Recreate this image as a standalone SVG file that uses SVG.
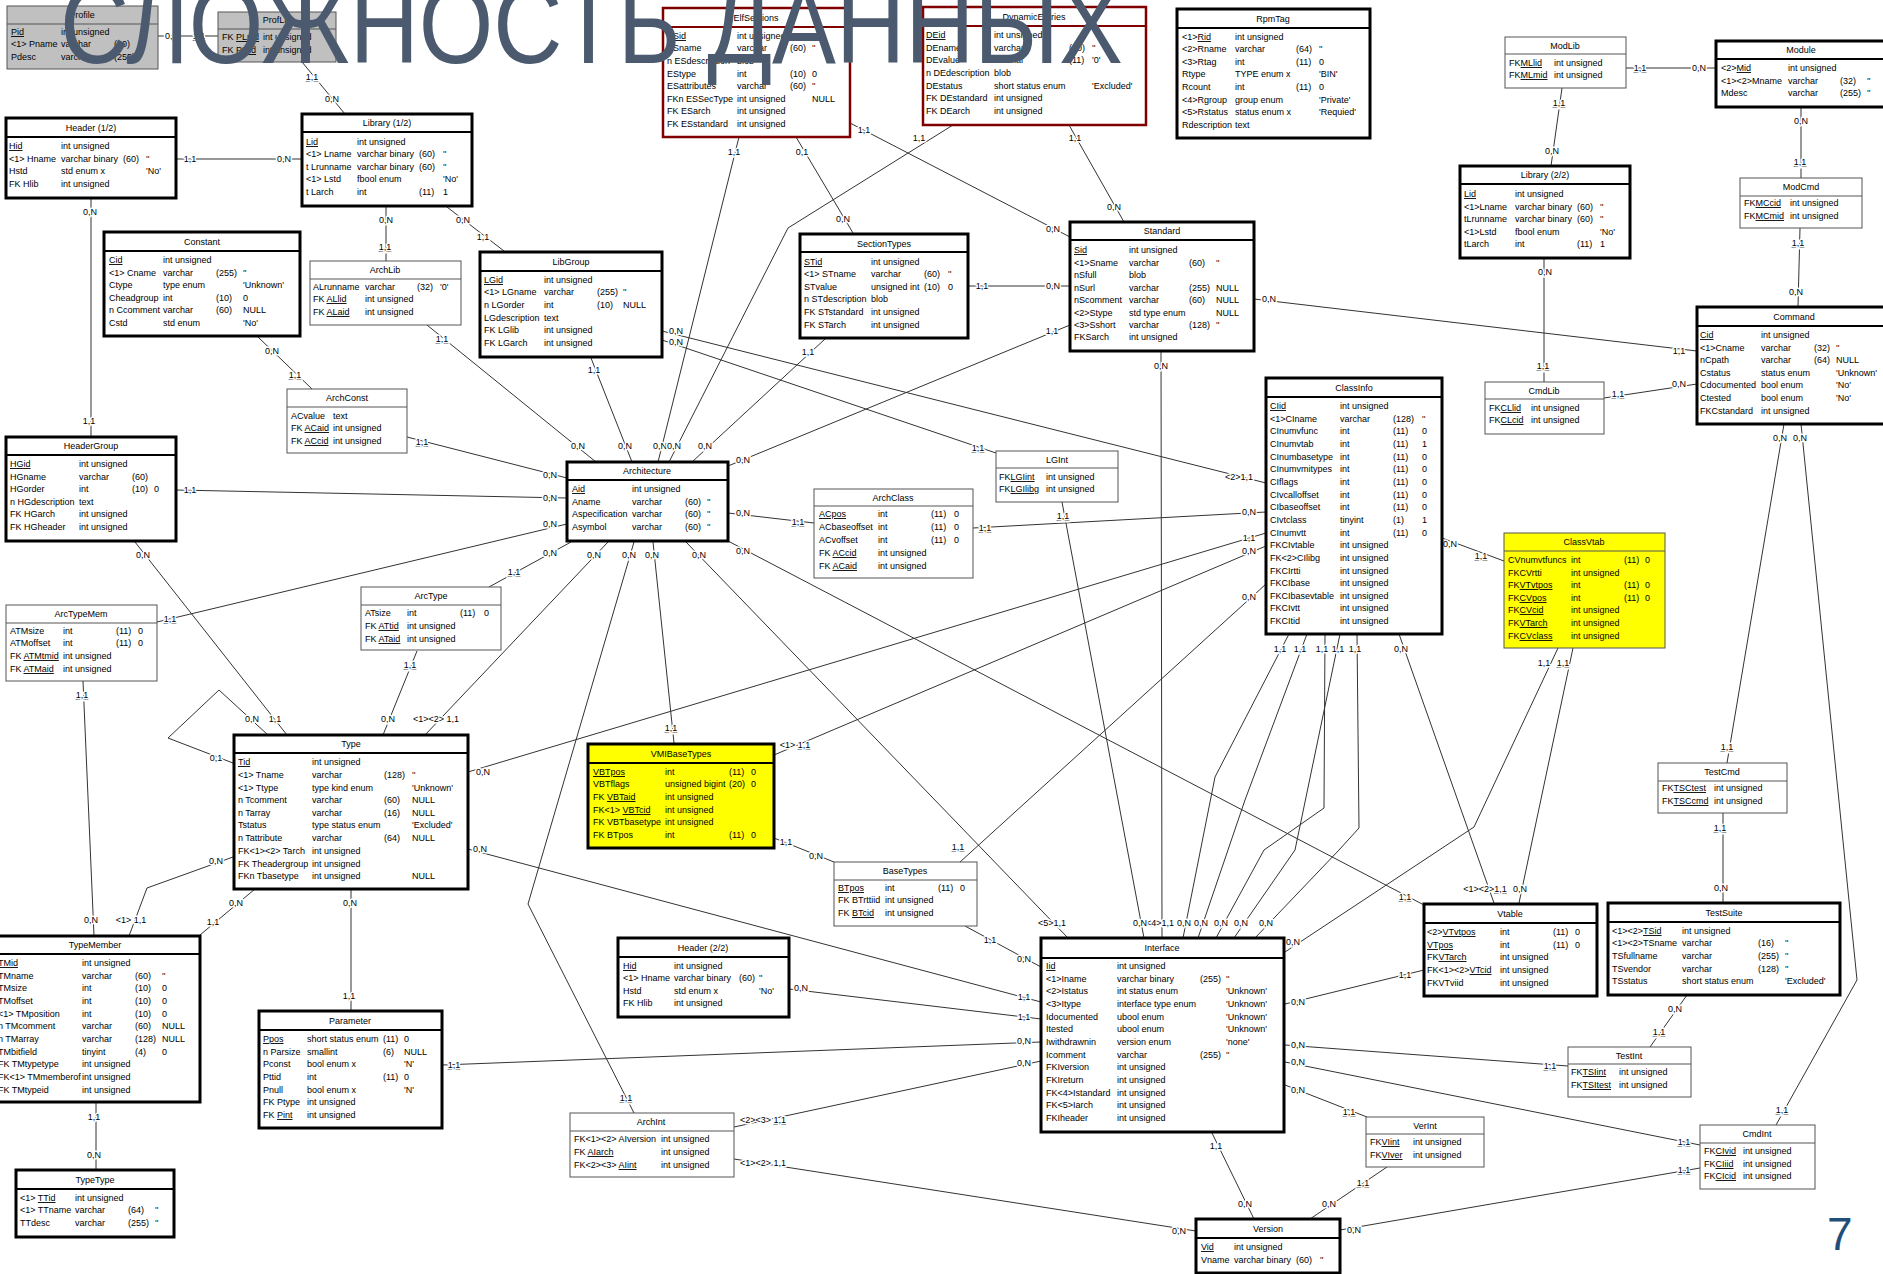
<svg xmlns="http://www.w3.org/2000/svg" width="1883" height="1274" viewBox="0 0 1883 1274">
<style>
.t{font-family:"Liberation Sans",Arial,sans-serif;font-size:9px;fill:#000}
.m{text-anchor:middle}
.u{text-decoration:underline}
.bk{fill:#fff;stroke:#000;stroke-width:3}
.bt{fill:#fff;stroke:#555;stroke-width:1}
.br{fill:#fff;stroke:#800000;stroke-width:2.5}
.bg{fill:#c0c0c0;stroke:#555;stroke-width:1}
.yk{fill:#ffff00;stroke:#000;stroke-width:3}
.yt{fill:#ffff00;stroke:#555;stroke-width:1}
.sk{stroke:#000;stroke-width:2}
.st{stroke:#555;stroke-width:1}
.sr{stroke:#800000;stroke-width:2}
.ln{fill:none;stroke:#333;stroke-width:1}
.lb{font-family:"Liberation Sans",Arial,sans-serif;font-size:9px;fill:#000;text-anchor:middle;paint-order:stroke;stroke:#fff;stroke-width:3px;stroke-linejoin:round}
.ttl{font-family:"Liberation Sans",Arial,sans-serif;font-size:112px;fill:#4b5a6e}
.pg{font-family:"Liberation Sans",Arial,sans-serif;font-size:46px;fill:#1f4e79}
</style>
<rect width="1883" height="1274" fill="#fff"/>
<g id="connectors">
<polyline class="ln" points="158,36 218,36"/><text class="lb" x="172" y="39">0,N</text><text class="lb u" x="199" y="39">1,1</text>
<polyline class="ln" points="302,62 345,114"/><text class="lb u" x="312" y="80">1,1</text><text class="lb" x="332" y="102">0,N</text>
<polyline class="ln" points="176,159 302,159"/><text class="lb" x="190" y="162">1,1</text><text class="lb" x="284" y="162">0,N</text>
<polyline class="ln" points="91,198 91,437"/><text class="lb" x="90" y="215">0,N</text><text class="lb" x="89" y="424">1,1</text>
<polyline class="ln" points="386,206 386,261"/><text class="lb" x="386" y="223">0,N</text><text class="lb u" x="385" y="250">1,1</text>
<polyline class="ln" points="447,207 504,251"/><text class="lb" x="463" y="223">0,N</text><text class="lb" x="483" y="240">1,1</text>
<polyline class="ln" points="258,337 312,389"/><text class="lb" x="272" y="354">0,N</text><text class="lb u" x="295" y="378">1,1</text>
<polyline class="ln" points="427,325 596,462"/><text class="lb u" x="442" y="342">1,1</text><text class="lb" x="578" y="449">0,N</text>
<polyline class="ln" points="407,437 567,478"/><text class="lb u" x="422" y="445">1,1</text><text class="lb" x="550" y="478">0,N</text>
<polyline class="ln" points="176,490 567,498"/><text class="lb" x="190" y="493">1,1</text><text class="lb" x="550" y="501">0,N</text>
<polyline class="ln" points="157,622 567,524"/><text class="lb u" x="170" y="622">1,1</text><text class="lb" x="550" y="527">0,N</text>
<polyline class="ln" points="489,587 571,542"/><text class="lb u" x="514" y="575">1,1</text><text class="lb" x="550" y="556">0,N</text>
<polyline class="ln" points="591,358 632,462"/><text class="lb" x="594" y="373">1,1</text><text class="lb" x="625" y="449">0,N</text>
<polyline class="ln" points="739,137 658,462"/><text class="lb" x="734" y="155">1,1</text><text class="lb" x="660" y="449">0,N</text>
<polyline class="ln" points="953,125 788,228 669,462"/><text class="lb" x="919" y="141">1,1</text><text class="lb" x="674" y="449">0,N</text>
<polyline class="ln" points="825,339 692,462"/><text class="lb" x="808" y="355">1,1</text><text class="lb" x="705" y="449">0,N</text>
<polyline class="ln" points="1070,325 728,466"/><text class="lb" x="1052" y="334">1,1</text><text class="lb" x="743" y="463">0,N</text>
<polyline class="ln" points="728,513 814,523"/><text class="lb" x="743" y="516">0,N</text><text class="lb u" x="798" y="525">1,1</text>
<polyline class="ln" points="608,542 425,735"/><text class="lb" x="594" y="558">0,N</text><text class="lb" x="436" y="722">&lt;1&gt;&lt;2&gt; 1,1</text>
<polyline class="ln" points="634,542 528,904 634,1113"/><text class="lb" x="629" y="558">0,N</text><text class="lb u" x="626" y="1101">1,1</text>
<polyline class="ln" points="653,542 674,743"/><text class="lb" x="652" y="558">0,N</text><text class="lb u" x="671" y="731">1,1</text>
<polyline class="ln" points="686,542 1068,938"/><text class="lb" x="699" y="558">0,N</text><text class="lb" x="1052" y="926">&lt;5&gt;1,1</text>
<polyline class="ln" points="728,541 1424,905"/><text class="lb" x="743" y="554">0,N</text><text class="lb u" x="1405" y="900">1,1</text>
<polyline class="ln" points="796,137 853,233"/><text class="lb" x="802" y="155">0,1</text><text class="lb" x="843" y="222">0,N</text>
<polyline class="ln" points="850,123 1070,237"/><text class="lb" x="864" y="133">1,1</text><text class="lb" x="1053" y="232">0,N</text>
<polyline class="ln" points="1069,125 1124,222"/><text class="lb" x="1075" y="141">1,1</text><text class="lb" x="1114" y="210">0,N</text>
<polyline class="ln" points="968,286 1070,286"/><text class="lb" x="982" y="289">1,1</text><text class="lb" x="1053" y="289">0,N</text>
<polyline class="ln" points="1254,299 1697,351"/><text class="lb" x="1269" y="302">0,N</text><text class="lb" x="1679" y="354">1,1</text>
<polyline class="ln" points="1161,351 1162,938"/><text class="lb" x="1161" y="369">0,N</text><text class="lb" x="1160" y="926">&lt;4&gt;1,1</text>
<polyline class="ln" points="1626,68 1716,68"/><text class="lb u" x="1640" y="71">1,1</text><text class="lb" x="1699" y="71">0,N</text>
<polyline class="ln" points="1562,88 1551,166"/><text class="lb u" x="1559" y="106">1,1</text><text class="lb" x="1552" y="154">0,N</text>
<polyline class="ln" points="1801,107 1801,178"/><text class="lb" x="1801" y="124">0,N</text><text class="lb u" x="1800" y="165">1,1</text>
<polyline class="ln" points="1800,228 1798,307"/><text class="lb u" x="1798" y="246">1,1</text><text class="lb" x="1796" y="295">0,N</text>
<polyline class="ln" points="1544,258 1544,382"/><text class="lb" x="1545" y="275">0,N</text><text class="lb u" x="1543" y="369">1,1</text>
<polyline class="ln" points="1604,398 1697,384"/><text class="lb u" x="1618" y="397">1,1</text><text class="lb" x="1679" y="387">0,N</text>
<polyline class="ln" points="1784,424 1727,763"/><text class="lb" x="1780" y="441">0,N</text><text class="lb u" x="1727" y="750">1,1</text>
<polyline class="ln" points="1801,424 1857,980 1776,1125"/><text class="lb" x="1800" y="441">0,N</text><text class="lb u" x="1782" y="1113">1,1</text>
<polyline class="ln" points="1723,813 1723,903"/><text class="lb u" x="1720" y="831">1,1</text><text class="lb" x="1721" y="891">0,N</text>
<polyline class="ln" points="1687,995 1650,1047"/><text class="lb" x="1675" y="1012">0,N</text><text class="lb u" x="1659" y="1035">1,1</text>
<polyline class="ln" points="1285,1045 1568,1066"/><text class="lb" x="1298" y="1048">0,N</text><text class="lb u" x="1550" y="1069">1,1</text>
<polyline class="ln" points="1285,1062 1700,1145"/><text class="lb" x="1298" y="1065">0,N</text><text class="lb u" x="1684" y="1145">1,1</text>
<polyline class="ln" points="1340,1230 1700,1168"/><text class="lb" x="1354" y="1233">0,N</text><text class="lb u" x="1684" y="1173">1,1</text>
<polyline class="ln" points="1285,1085 1367,1117"/><text class="lb" x="1298" y="1093">0,N</text><text class="lb u" x="1349" y="1115">1,1</text>
<polyline class="ln" points="1387,1167 1310,1219"/><text class="lb u" x="1363" y="1186">1,1</text><text class="lb" x="1329" y="1207">0,N</text>
<polyline class="ln" points="1212,1133 1254,1219"/><text class="lb" x="1216" y="1149">1,1</text><text class="lb" x="1245" y="1207">0,N</text>
<polyline class="ln" points="734,1159 1196,1231"/><text class="lb" x="763" y="1166">&lt;1&gt;&lt;2&gt; 1,1</text><text class="lb" x="1179" y="1234">0,N</text>
<polyline class="ln" points="734,1127 1041,1061"/><text class="lb" x="763" y="1123">&lt;2&gt;&lt;3&gt; <tspan class="u">1,1</tspan></text><text class="lb" x="1024" y="1066">0,N</text>
<polyline class="ln" points="442,1065 1041,1042"/><text class="lb u" x="454" y="1068">1,1</text><text class="lb" x="1024" y="1044">0,N</text>
<polyline class="ln" points="789,989 1041,1019"/><text class="lb" x="801" y="991">0,N</text><text class="lb" x="1024" y="1020">1,1</text>
<polyline class="ln" points="468,849 1041,1002"/><text class="lb" x="480" y="852">0,N</text><text class="lb" x="1024" y="1000">1,1</text>
<polyline class="ln" points="965,926 1041,967"/><text class="lb" x="990" y="943">1,1</text><text class="lb" x="1024" y="962">0,N</text>
<polyline class="ln" points="774,838 834,862"/><text class="lb" x="786" y="845">1,1</text><text class="lb" x="816" y="859">0,N</text>
<polyline class="ln" points="774,755 1266,546"/><text class="lb" x="795" y="748">&lt;1&gt; <tspan class="u">1,1</tspan></text><text class="lb" x="1249" y="554">0,N</text>
<polyline class="ln" points="468,772 1266,533"/><text class="lb" x="483" y="775">0,N</text><text class="lb" x="1249" y="541">1,1</text>
<polyline class="ln" points="960,862 1266,584"/><text class="lb u" x="958" y="850">1,1</text><text class="lb" x="1249" y="600">0,N</text>
<polyline class="ln" points="973,528 1266,512"/><text class="lb u" x="985" y="531">1,1</text><text class="lb" x="1249" y="515">0,N</text>
<polyline class="ln" points="662,331 1266,483"/><text class="lb" x="676" y="334">0,N</text><text class="lb" x="1239" y="480">&lt;2&gt;1,1</text>
<polyline class="ln" points="662,340 996,453"/><text class="lb" x="676" y="345">0,N</text><text class="lb u" x="978" y="451">1,1</text>
<polyline class="ln" points="1062,502 1144,938"/><text class="lb u" x="1063" y="519">1,1</text><text class="lb" x="1140" y="926">0,N</text>
<polyline class="ln" points="1442,538 1504,561"/><text class="lb" x="1450" y="547">0,N</text><text class="lb u" x="1481" y="559">1,1</text>
<polyline class="ln" points="1558,648 1474,827 1285,952"/><text class="lb" x="1544" y="666">1,1</text><text class="lb" x="1293" y="945">0,N</text>
<polyline class="ln" points="1573,648 1519,903"/><text class="lb u" x="1563" y="666">1,1</text><text class="lb" x="1520" y="892">0,N</text>
<polyline class="ln" points="1399,634 1494,903"/><text class="lb" x="1401" y="652">0,N</text><text class="lb" x="1485" y="892">&lt;1&gt;&lt;2&gt;<tspan class="u">1,1</tspan></text>
<polyline class="ln" points="1424,970 1285,1004"/><text class="lb" x="1405" y="978">1,1</text><text class="lb" x="1298" y="1005">0,N</text>
<polyline class="ln" points="1289,634 1215,777 1183,938"/><text class="lb" x="1280" y="652">1,1</text><text class="lb" x="1184" y="926">0,N</text>
<polyline class="ln" points="1307,634 1245,800 1198,938"/><text class="lb" x="1300" y="652">1,1</text><text class="lb" x="1201" y="926">0,N</text>
<polyline class="ln" points="1325,634 1324,808 1264,850 1216,938"/><text class="lb" x="1322" y="652">1,1</text><text class="lb" x="1221" y="926">0,N</text>
<polyline class="ln" points="1340,634 1295,850 1234,938"/><text class="lb" x="1338" y="652">1,1</text><text class="lb" x="1241" y="926">0,N</text>
<polyline class="ln" points="1357,634 1359,828 1339,850 1255,938"/><text class="lb" x="1355" y="652">1,1</text><text class="lb" x="1266" y="926">0,N</text>
<polyline class="ln" points="135,542 287,735"/><text class="lb" x="143" y="558">0,N</text><text class="lb" x="275" y="722">1,1</text>
<polyline class="ln" points="268,735 219,690 168,738 233,763"/><text class="lb" x="252" y="722">0,N</text><text class="lb" x="216" y="761">0,1</text>
<polyline class="ln" points="417,651 383,735"/><text class="lb u" x="410" y="668">1,1</text><text class="lb" x="388" y="722">0,N</text>
<polyline class="ln" points="83,681 94,936"/><text class="lb u" x="82" y="698">1,1</text><text class="lb" x="91" y="923">0,N</text>
<polyline class="ln" points="233,857 147,888 129,936"/><text class="lb" x="216" y="864">0,N</text><text class="lb" x="131" y="923">&lt;1&gt; 1,1</text>
<polyline class="ln" points="255,889 200,935"/><text class="lb" x="236" y="906">0,N</text><text class="lb" x="213" y="925">1,1</text>
<polyline class="ln" points="96,1102 96,1170"/><text class="lb" x="94" y="1120">1,1</text><text class="lb" x="94" y="1158">0,N</text>
<polyline class="ln" points="351,889 351,1011"/><text class="lb" x="350" y="906">0,N</text><text class="lb" x="349" y="999">1,1</text>
</g>

<g id="profile"><rect class="bg" x="7" y="6" width="151" height="63"/><line class="st" x1="7" y1="24" x2="158" y2="24"/><text class="t m" x="82" y="18">Profile</text>
<text class="t" y="35"><tspan x="11" class="u">Pid</tspan><tspan x="61">int unsigned</tspan></text>
<text class="t" y="47"><tspan x="11">&lt;1&gt; Pname</tspan><tspan x="61">varchar</tspan><tspan x="114">(60)</tspan><tspan x="141">''</tspan></text>
<text class="t" y="60"><tspan x="11">Pdesc</tspan><tspan x="61">varchar</tspan><tspan x="114">(255)</tspan></text></g>

<g id="proflib"><rect class="bg" x="218" y="12" width="118" height="50"/><line class="st" x1="218" y1="29" x2="336" y2="29"/><text class="t m" x="277" y="23">ProfLib</text>
<text class="t" y="40"><tspan x="222">FK <tspan class="u">PLpid</tspan></tspan><tspan x="263">int unsigned</tspan></text>
<text class="t" y="53"><tspan x="222">FK <tspan class="u">PLlid</tspan></tspan><tspan x="263">int unsigned</tspan></text></g>

<g id="header1"><rect class="bk" x="6" y="118" width="170" height="80"/><line class="sk" x1="6" y1="137" x2="176" y2="137"/><text class="t m" x="91" y="131">Header (1/2)</text>
<text class="t" y="149"><tspan x="9" class="u">Hid</tspan><tspan x="61">int unsigned</tspan></text>
<text class="t" y="162"><tspan x="9">&lt;1&gt; Hname</tspan><tspan x="61">varchar binary</tspan><tspan x="123">(60)</tspan><tspan x="146">''</tspan></text>
<text class="t" y="174"><tspan x="9">Hstd</tspan><tspan x="61">std enum x</tspan><tspan x="146">'No'</tspan></text>
<text class="t" y="187"><tspan x="9">FK Hlib</tspan><tspan x="61">int unsigned</tspan></text></g>

<g id="library1"><rect class="bk" x="302" y="114" width="170" height="92"/><line class="sk" x1="302" y1="132" x2="472" y2="132"/><text class="t m" x="387" y="126">Library (1/2)</text>
<text class="t" y="145"><tspan x="306" class="u">Lid</tspan><tspan x="357">int unsigned</tspan></text>
<text class="t" y="157"><tspan x="306">&lt;1&gt; Lname</tspan><tspan x="357">varchar binary</tspan><tspan x="419">(60)</tspan><tspan x="443">''</tspan></text>
<text class="t" y="170"><tspan x="306">t Lrunname</tspan><tspan x="357">varchar binary</tspan><tspan x="419">(60)</tspan><tspan x="443">''</tspan></text>
<text class="t" y="182"><tspan x="306">&lt;1&gt; Lstd</tspan><tspan x="357">fbool enum</tspan><tspan x="443">'No'</tspan></text>
<text class="t" y="195"><tspan x="306">t Larch</tspan><tspan x="357">int</tspan><tspan x="419">(11)</tspan><tspan x="443">1</tspan></text></g>

<g id="constant"><rect class="bk" x="104" y="232" width="196" height="104"/><line class="sk" x1="104" y1="251" x2="300" y2="251"/><text class="t m" x="202" y="245">Constant</text>
<text class="t" y="263"><tspan x="109" class="u">Cid</tspan><tspan x="163">int unsigned</tspan></text>
<text class="t" y="276"><tspan x="109">&lt;1&gt; Cname</tspan><tspan x="163">varchar</tspan><tspan x="216">(255)</tspan><tspan x="243">''</tspan></text>
<text class="t" y="288"><tspan x="109">Ctype</tspan><tspan x="163">type enum</tspan><tspan x="243">'Unknown'</tspan></text>
<text class="t" y="301"><tspan x="109">Cheadgroup</tspan><tspan x="163">int</tspan><tspan x="216">(10)</tspan><tspan x="243">0</tspan></text>
<text class="t" y="313"><tspan x="109">n Ccomment</tspan><tspan x="163">varchar</tspan><tspan x="216">(60)</tspan><tspan x="243">NULL</tspan></text>
<text class="t" y="326"><tspan x="109">Cstd</tspan><tspan x="163">std enum</tspan><tspan x="243">'No'</tspan></text></g>

<g id="archlib"><rect class="bt" x="310" y="261" width="151" height="64"/><line class="st" x1="310" y1="279" x2="461" y2="279"/><text class="t m" x="385" y="273">ArchLib</text>
<text class="t" y="290"><tspan x="313">ALrunname</tspan><tspan x="365">varchar</tspan><tspan x="417">(32)</tspan><tspan x="440">'0'</tspan></text>
<text class="t" y="302"><tspan x="313">FK <tspan class="u">ALlid</tspan></tspan><tspan x="365">int unsigned</tspan></text>
<text class="t" y="315"><tspan x="313">FK <tspan class="u">ALaid</tspan></tspan><tspan x="365">int unsigned</tspan></text></g>

<g id="archconst"><rect class="bt" x="287" y="389" width="120" height="64"/><line class="st" x1="287" y1="407" x2="407" y2="407"/><text class="t m" x="347" y="401">ArchConst</text>
<text class="t" y="419"><tspan x="291">ACvalue</tspan><tspan x="333">text</tspan></text>
<text class="t" y="431"><tspan x="291">FK <tspan class="u">ACaid</tspan></tspan><tspan x="333">int unsigned</tspan></text>
<text class="t" y="444"><tspan x="291">FK <tspan class="u">ACcid</tspan></tspan><tspan x="333">int unsigned</tspan></text></g>

<g id="elfsections"><rect class="br" x="663" y="8" width="187" height="129"/><line class="sr" x1="663" y1="27" x2="850" y2="27"/><text class="t m" x="756" y="21">ElfSections</text>
<text class="t" y="39"><tspan x="667" class="u">ESid</tspan><tspan x="737">int unsigned</tspan></text>
<text class="t" y="51"><tspan x="667">ESname</tspan><tspan x="737">varchar</tspan><tspan x="790">(60)</tspan><tspan x="812">''</tspan></text>
<text class="t" y="64"><tspan x="667">n ESdescription</tspan><tspan x="737">blob</tspan></text>
<text class="t" y="77"><tspan x="667">EStype</tspan><tspan x="737">int</tspan><tspan x="790">(10)</tspan><tspan x="812">0</tspan></text>
<text class="t" y="89"><tspan x="667">ESattributes</tspan><tspan x="737">varchar</tspan><tspan x="790">(60)</tspan><tspan x="812">''</tspan></text>
<text class="t" y="102"><tspan x="667">FKn ESSecType</tspan><tspan x="737">int unsigned</tspan><tspan x="812">NULL</tspan></text>
<text class="t" y="114"><tspan x="667">FK ESarch</tspan><tspan x="737">int unsigned</tspan></text>
<text class="t" y="127"><tspan x="667">FK ESstandard</tspan><tspan x="737">int unsigned</tspan></text></g>

<g id="dynamicentries"><rect class="br" x="923" y="7" width="223" height="118"/><line class="sr" x1="923" y1="26" x2="1146" y2="26"/><text class="t m" x="1034" y="20">DynamicEntries</text>
<text class="t" y="38"><tspan x="926" class="u">DEid</tspan><tspan x="994">int unsigned</tspan></text>
<text class="t" y="51"><tspan x="926">DEname</tspan><tspan x="994">varchar</tspan><tspan x="1069">(60)</tspan><tspan x="1092">''</tspan></text>
<text class="t" y="63"><tspan x="926">DEvalue</tspan><tspan x="994">varchar</tspan><tspan x="1069">(11)</tspan><tspan x="1092">'0'</tspan></text>
<text class="t" y="76"><tspan x="926">n DEdescription</tspan><tspan x="994">blob</tspan></text>
<text class="t" y="89"><tspan x="926">DEstatus</tspan><tspan x="994">short status enum</tspan><tspan x="1092">'Excluded'</tspan></text>
<text class="t" y="101"><tspan x="926">FK DEstandard</tspan><tspan x="994">int unsigned</tspan></text>
<text class="t" y="114"><tspan x="926">FK DEarch</tspan><tspan x="994">int unsigned</tspan></text></g>

<g id="libgroup"><rect class="bk" x="480" y="252" width="182" height="105"/><line class="sk" x1="480" y1="271" x2="662" y2="271"/><text class="t m" x="571" y="265">LibGroup</text>
<text class="t" y="283"><tspan x="484" class="u">LGid</tspan><tspan x="544">int unsigned</tspan></text>
<text class="t" y="295"><tspan x="484">&lt;1&gt; LGname</tspan><tspan x="544">varchar</tspan><tspan x="597">(255)</tspan><tspan x="623">''</tspan></text>
<text class="t" y="308"><tspan x="484">n LGorder</tspan><tspan x="544">int</tspan><tspan x="597">(10)</tspan><tspan x="623">NULL</tspan></text>
<text class="t" y="321"><tspan x="484">LGdescription</tspan><tspan x="544">text</tspan></text>
<text class="t" y="333"><tspan x="484">FK LGlib</tspan><tspan x="544">int unsigned</tspan></text>
<text class="t" y="346"><tspan x="484">FK LGarch</tspan><tspan x="544">int unsigned</tspan></text></g>

<g id="sectiontypes"><rect class="bk" x="800" y="234" width="168" height="104"/><line class="sk" x1="800" y1="252" x2="968" y2="252"/><text class="t m" x="884" y="247">SectionTypes</text>
<text class="t" y="265"><tspan x="804" class="u">STid</tspan><tspan x="871">int unsigned</tspan></text>
<text class="t" y="277"><tspan x="804">&lt;1&gt; STname</tspan><tspan x="871">varchar</tspan><tspan x="924">(60)</tspan><tspan x="948">''</tspan></text>
<text class="t" y="290"><tspan x="804">STvalue</tspan><tspan x="871">unsigned int</tspan><tspan x="924">(10)</tspan><tspan x="948">0</tspan></text>
<text class="t" y="302"><tspan x="804">n STdescription</tspan><tspan x="871">blob</tspan></text>
<text class="t" y="315"><tspan x="804">FK STstandard</tspan><tspan x="871">int unsigned</tspan></text>
<text class="t" y="328"><tspan x="804">FK STarch</tspan><tspan x="871">int unsigned</tspan></text></g>

<g id="rpmtag"><rect class="bk" x="1177" y="9" width="193" height="129"/><line class="sk" x1="1177" y1="28" x2="1370" y2="28"/><text class="t m" x="1273" y="22">RpmTag</text>
<text class="t" y="40"><tspan x="1182">&lt;1&gt;<tspan class="u">Rid</tspan></tspan><tspan x="1235">int unsigned</tspan></text>
<text class="t" y="52"><tspan x="1182">&lt;2&gt;Rname</tspan><tspan x="1235">varchar</tspan><tspan x="1296">(64)</tspan><tspan x="1319">''</tspan></text>
<text class="t" y="65"><tspan x="1182">&lt;3&gt;Rtag</tspan><tspan x="1235">int</tspan><tspan x="1296">(11)</tspan><tspan x="1319">0</tspan></text>
<text class="t" y="77"><tspan x="1182">Rtype</tspan><tspan x="1235">TYPE enum x</tspan><tspan x="1319">'BIN'</tspan></text>
<text class="t" y="90"><tspan x="1182">Rcount</tspan><tspan x="1235">int</tspan><tspan x="1296">(11)</tspan><tspan x="1319">0</tspan></text>
<text class="t" y="103"><tspan x="1182">&lt;4&gt;Rgroup</tspan><tspan x="1235">group enum</tspan><tspan x="1319">'Private'</tspan></text>
<text class="t" y="115"><tspan x="1182">&lt;5&gt;Rstatus</tspan><tspan x="1235">status enum x</tspan><tspan x="1319">'Requied'</tspan></text>
<text class="t" y="128"><tspan x="1182">Rdescription</tspan><tspan x="1235">text</tspan></text></g>

<g id="standard"><rect class="bk" x="1070" y="222" width="184" height="129"/><line class="sk" x1="1070" y1="240" x2="1254" y2="240"/><text class="t m" x="1162" y="234">Standard</text>
<text class="t" y="253"><tspan x="1074" class="u">Sid</tspan><tspan x="1129">int unsigned</tspan></text>
<text class="t" y="266"><tspan x="1074">&lt;1&gt;Sname</tspan><tspan x="1129">varchar</tspan><tspan x="1189">(60)</tspan><tspan x="1216">''</tspan></text>
<text class="t" y="278"><tspan x="1074">nSfull</tspan><tspan x="1129">blob</tspan></text>
<text class="t" y="291"><tspan x="1074">nSurl</tspan><tspan x="1129">varchar</tspan><tspan x="1189">(255)</tspan><tspan x="1216">NULL</tspan></text>
<text class="t" y="303"><tspan x="1074">nScomment</tspan><tspan x="1129">varchar</tspan><tspan x="1189">(60)</tspan><tspan x="1216">NULL</tspan></text>
<text class="t" y="316"><tspan x="1074">&lt;2&gt;Stype</tspan><tspan x="1129">std type enum</tspan><tspan x="1216">NULL</tspan></text>
<text class="t" y="328"><tspan x="1074">&lt;3&gt;Sshort</tspan><tspan x="1129">varchar</tspan><tspan x="1189">(128)</tspan><tspan x="1216">''</tspan></text>
<text class="t" y="340"><tspan x="1074">FKSarch</tspan><tspan x="1129">int unsigned</tspan></text></g>

<g id="modlib"><rect class="bt" x="1505" y="37" width="121" height="51"/><line class="st" x1="1505" y1="54" x2="1626" y2="54"/><text class="t m" x="1565" y="49">ModLib</text>
<text class="t" y="66"><tspan x="1509">FK<tspan class="u">MLlid</tspan></tspan><tspan x="1554">int unsigned</tspan></text>
<text class="t" y="78"><tspan x="1509">FK<tspan class="u">MLmid</tspan></tspan><tspan x="1554">int unsigned</tspan></text></g>

<g id="module"><rect class="bk" x="1716" y="41" width="172" height="66"/><line class="sk" x1="1716" y1="59" x2="1888" y2="59"/><text class="t m" x="1801" y="53">Module</text>
<text class="t" y="71"><tspan x="1721">&lt;2&gt;<tspan class="u">Mid</tspan></tspan><tspan x="1788">int unsigned</tspan></text>
<text class="t" y="84"><tspan x="1721">&lt;1&gt;&lt;2&gt;Mname</tspan><tspan x="1788">varchar</tspan><tspan x="1840">(32)</tspan><tspan x="1867">''</tspan></text>
<text class="t" y="96"><tspan x="1721">Mdesc</tspan><tspan x="1788">varchar</tspan><tspan x="1840">(255)</tspan><tspan x="1867">''</tspan></text></g>

<g id="library2"><rect class="bk" x="1460" y="166" width="170" height="92"/><line class="sk" x1="1460" y1="184" x2="1630" y2="184"/><text class="t m" x="1545" y="178">Library (2/2)</text>
<text class="t" y="197"><tspan x="1464" class="u">Lid</tspan><tspan x="1515">int unsigned</tspan></text>
<text class="t" y="210"><tspan x="1464">&lt;1&gt;Lname</tspan><tspan x="1515">varchar binary</tspan><tspan x="1577">(60)</tspan><tspan x="1600">''</tspan></text>
<text class="t" y="222"><tspan x="1464">tLrunname</tspan><tspan x="1515">varchar binary</tspan><tspan x="1577">(60)</tspan><tspan x="1600">''</tspan></text>
<text class="t" y="235"><tspan x="1464">&lt;1&gt;Lstd</tspan><tspan x="1515">fbool enum</tspan><tspan x="1600">'No'</tspan></text>
<text class="t" y="247"><tspan x="1464">tLarch</tspan><tspan x="1515">int</tspan><tspan x="1577">(11)</tspan><tspan x="1600">1</tspan></text></g>

<g id="modcmd"><rect class="bt" x="1740" y="178" width="122" height="50"/><line class="st" x1="1740" y1="196" x2="1862" y2="196"/><text class="t m" x="1801" y="190">ModCmd</text>
<text class="t" y="206"><tspan x="1744">FK<tspan class="u">MCcid</tspan></tspan><tspan x="1790">int unsigned</tspan></text>
<text class="t" y="219"><tspan x="1744">FK<tspan class="u">MCmid</tspan></tspan><tspan x="1790">int unsigned</tspan></text></g>

<g id="cmdlib"><rect class="bt" x="1485" y="382" width="119" height="52"/><line class="st" x1="1485" y1="399" x2="1604" y2="399"/><text class="t m" x="1544" y="394">CmdLib</text>
<text class="t" y="411"><tspan x="1489">FK<tspan class="u">CLlid</tspan></tspan><tspan x="1531">int unsigned</tspan></text>
<text class="t" y="423"><tspan x="1489">FK<tspan class="u">CLcid</tspan></tspan><tspan x="1531">int unsigned</tspan></text></g>

<g id="command"><rect class="bk" x="1697" y="307" width="194" height="117"/><line class="sk" x1="1697" y1="326" x2="1891" y2="326"/><text class="t m" x="1794" y="320">Command</text>
<text class="t" y="338"><tspan x="1700" class="u">Cid</tspan><tspan x="1761">int unsigned</tspan></text>
<text class="t" y="351"><tspan x="1700">&lt;1&gt;Cname</tspan><tspan x="1761">varchar</tspan><tspan x="1814">(32)</tspan><tspan x="1836">''</tspan></text>
<text class="t" y="363"><tspan x="1700">nCpath</tspan><tspan x="1761">varchar</tspan><tspan x="1814">(64)</tspan><tspan x="1836">NULL</tspan></text>
<text class="t" y="376"><tspan x="1700">Cstatus</tspan><tspan x="1761">status enum</tspan><tspan x="1836">'Unknown'</tspan></text>
<text class="t" y="388"><tspan x="1700">Cdocumented</tspan><tspan x="1761">bool enum</tspan><tspan x="1836">'No'</tspan></text>
<text class="t" y="401"><tspan x="1700">Ctested</tspan><tspan x="1761">bool enum</tspan><tspan x="1836">'No'</tspan></text>
<text class="t" y="414"><tspan x="1700">FKCstandard</tspan><tspan x="1761">int unsigned</tspan></text></g>

<g id="classinfo"><rect class="bk" x="1266" y="378" width="176" height="256"/><line class="sk" x1="1266" y1="397" x2="1442" y2="397"/><text class="t m" x="1354" y="391">ClassInfo</text>
<text class="t" y="409"><tspan x="1270" class="u">CIid</tspan><tspan x="1340">int unsigned</tspan></text>
<text class="t" y="422"><tspan x="1270">&lt;1&gt;CIname</tspan><tspan x="1340">varchar</tspan><tspan x="1393">(128)</tspan><tspan x="1422">''</tspan></text>
<text class="t" y="434"><tspan x="1270">CInumvfunc</tspan><tspan x="1340">int</tspan><tspan x="1393">(11)</tspan><tspan x="1422">0</tspan></text>
<text class="t" y="447"><tspan x="1270">CInumvtab</tspan><tspan x="1340">int</tspan><tspan x="1393">(11)</tspan><tspan x="1422">1</tspan></text>
<text class="t" y="460"><tspan x="1270">CInumbasetype</tspan><tspan x="1340">int</tspan><tspan x="1393">(11)</tspan><tspan x="1422">0</tspan></text>
<text class="t" y="472"><tspan x="1270">CInumvmitypes</tspan><tspan x="1340">int</tspan><tspan x="1393">(11)</tspan><tspan x="1422">0</tspan></text>
<text class="t" y="485"><tspan x="1270">CIflags</tspan><tspan x="1340">int</tspan><tspan x="1393">(11)</tspan><tspan x="1422">0</tspan></text>
<text class="t" y="498"><tspan x="1270">CIvcalloffset</tspan><tspan x="1340">int</tspan><tspan x="1393">(11)</tspan><tspan x="1422">0</tspan></text>
<text class="t" y="510"><tspan x="1270">CIbaseoffset</tspan><tspan x="1340">int</tspan><tspan x="1393">(11)</tspan><tspan x="1422">0</tspan></text>
<text class="t" y="523"><tspan x="1270">CIvtclass</tspan><tspan x="1340">tinyint</tspan><tspan x="1393">(1)</tspan><tspan x="1422">1</tspan></text>
<text class="t" y="536"><tspan x="1270">CInumvtt</tspan><tspan x="1340">int</tspan><tspan x="1393">(11)</tspan><tspan x="1422">0</tspan></text>
<text class="t" y="548"><tspan x="1270">FKCIvtable</tspan><tspan x="1340">int unsigned</tspan></text>
<text class="t" y="561"><tspan x="1270">FK&lt;2&gt;CIlibg</tspan><tspan x="1340">int unsigned</tspan></text>
<text class="t" y="574"><tspan x="1270">FKCIrtti</tspan><tspan x="1340">int unsigned</tspan></text>
<text class="t" y="586"><tspan x="1270">FKCIbase</tspan><tspan x="1340">int unsigned</tspan></text>
<text class="t" y="599"><tspan x="1270">FKCIbasevtable</tspan><tspan x="1340">int unsigned</tspan></text>
<text class="t" y="611"><tspan x="1270">FKCIvtt</tspan><tspan x="1340">int unsigned</tspan></text>
<text class="t" y="624"><tspan x="1270">FKCItid</tspan><tspan x="1340">int unsigned</tspan></text></g>

<g id="architecture"><rect class="bk" x="567" y="462" width="161" height="79"/><line class="sk" x1="567" y1="480" x2="728" y2="480"/><text class="t m" x="647" y="474">Architecture</text>
<text class="t" y="492"><tspan x="572" class="u">Aid</tspan><tspan x="632">int unsigned</tspan></text>
<text class="t" y="505"><tspan x="572">Aname</tspan><tspan x="632">varchar</tspan><tspan x="685">(60)</tspan><tspan x="707">''</tspan></text>
<text class="t" y="517"><tspan x="572">Aspecification</tspan><tspan x="632">varchar</tspan><tspan x="685">(60)</tspan><tspan x="707">''</tspan></text>
<text class="t" y="530"><tspan x="572">Asymbol</tspan><tspan x="632">varchar</tspan><tspan x="685">(60)</tspan><tspan x="707">''</tspan></text></g>

<g id="archclass"><rect class="bt" x="814" y="489" width="159" height="89"/><line class="st" x1="814" y1="506" x2="973" y2="506"/><text class="t m" x="893" y="501">ArchClass</text>
<text class="t" y="517"><tspan x="819" class="u">ACpos</tspan><tspan x="878">int</tspan><tspan x="931">(11)</tspan><tspan x="954">0</tspan></text>
<text class="t" y="530"><tspan x="819">ACbaseoffset</tspan><tspan x="878">int</tspan><tspan x="931">(11)</tspan><tspan x="954">0</tspan></text>
<text class="t" y="543"><tspan x="819">ACvoffset</tspan><tspan x="878">int</tspan><tspan x="931">(11)</tspan><tspan x="954">0</tspan></text>
<text class="t" y="556"><tspan x="819">FK <tspan class="u">ACcid</tspan></tspan><tspan x="878">int unsigned</tspan></text>
<text class="t" y="569"><tspan x="819">FK <tspan class="u">ACaid</tspan></tspan><tspan x="878">int unsigned</tspan></text></g>

<g id="lgint"><rect class="bt" x="996" y="451" width="122" height="51"/><line class="st" x1="996" y1="468" x2="1118" y2="468"/><text class="t m" x="1057" y="463">LGInt</text>
<text class="t" y="480"><tspan x="999">FK<tspan class="u">LGIint</tspan></tspan><tspan x="1046">int unsigned</tspan></text>
<text class="t" y="492"><tspan x="999">FK<tspan class="u">LGIlibg</tspan></tspan><tspan x="1046">int unsigned</tspan></text></g>

<g id="classvtab"><rect class="yt" x="1504" y="533" width="161" height="115"/><line class="st" x1="1504" y1="551" x2="1665" y2="551"/><text class="t m" x="1584" y="545">ClassVtab</text>
<text class="t" y="563"><tspan x="1508">CVnumvtfuncs</tspan><tspan x="1571">int</tspan><tspan x="1624">(11)</tspan><tspan x="1645">0</tspan></text>
<text class="t" y="576"><tspan x="1508">FKCVrtti</tspan><tspan x="1571">int unsigned</tspan></text>
<text class="t" y="588"><tspan x="1508">FK<tspan class="u">VTvtpos</tspan></tspan><tspan x="1571">int</tspan><tspan x="1624">(11)</tspan><tspan x="1645">0</tspan></text>
<text class="t" y="601"><tspan x="1508">FK<tspan class="u">CVpos</tspan></tspan><tspan x="1571">int</tspan><tspan x="1624">(11)</tspan><tspan x="1645">0</tspan></text>
<text class="t" y="613"><tspan x="1508">FK<tspan class="u">CVcid</tspan></tspan><tspan x="1571">int unsigned</tspan></text>
<text class="t" y="626"><tspan x="1508">FK<tspan class="u">VTarch</tspan></tspan><tspan x="1571">int unsigned</tspan></text>
<text class="t" y="639"><tspan x="1508">FK<tspan class="u">CVclass</tspan></tspan><tspan x="1571">int unsigned</tspan></text></g>

<g id="vmibasetypes"><rect class="yk" x="588" y="744" width="186" height="104"/><line class="sk" x1="588" y1="763" x2="774" y2="763"/><text class="t m" x="681" y="757">VMIBaseTypes</text>
<text class="t" y="775"><tspan x="593" class="u">VBTpos</tspan><tspan x="665">int</tspan><tspan x="729">(11)</tspan><tspan x="751">0</tspan></text>
<text class="t" y="787"><tspan x="593">VBTflags</tspan><tspan x="665">unsigned bigint</tspan><tspan x="729">(20)</tspan><tspan x="751">0</tspan></text>
<text class="t" y="800"><tspan x="593">FK <tspan class="u">VBTaid</tspan></tspan><tspan x="665">int unsigned</tspan></text>
<text class="t" y="813"><tspan x="593">FK&lt;1&gt; <tspan class="u">VBTcid</tspan></tspan><tspan x="665">int unsigned</tspan></text>
<text class="t" y="825"><tspan x="593">FK VBTbasetype</tspan><tspan x="665">int unsigned</tspan></text>
<text class="t" y="838"><tspan x="593">FK BTpos</tspan><tspan x="665">int</tspan><tspan x="729">(11)</tspan><tspan x="751">0</tspan></text></g>

<g id="basetypes"><rect class="bt" x="834" y="862" width="143" height="64"/><line class="st" x1="834" y1="880" x2="977" y2="880"/><text class="t m" x="905" y="874">BaseTypes</text>
<text class="t" y="891"><tspan x="838" class="u">BTpos</tspan><tspan x="885">int</tspan><tspan x="938">(11)</tspan><tspan x="960">0</tspan></text>
<text class="t" y="903"><tspan x="838">FK BTrttiid</tspan><tspan x="885">int unsigned</tspan></text>
<text class="t" y="916"><tspan x="838">FK <tspan class="u">BTcid</tspan></tspan><tspan x="885">int unsigned</tspan></text></g>

<g id="interface"><rect class="bk" x="1041" y="938" width="243" height="194"/><line class="sk" x1="1041" y1="958" x2="1284" y2="958"/><text class="t m" x="1162" y="951">Interface</text>
<text class="t" y="969"><tspan x="1046" class="u">Iid</tspan><tspan x="1117">int unsigned</tspan></text>
<text class="t" y="982"><tspan x="1046">&lt;1&gt;Iname</tspan><tspan x="1117">varchar binary</tspan><tspan x="1200">(255)</tspan><tspan x="1226">''</tspan></text>
<text class="t" y="994"><tspan x="1046">&lt;2&gt;Istatus</tspan><tspan x="1117">int status enum</tspan><tspan x="1226">'Unknown'</tspan></text>
<text class="t" y="1007"><tspan x="1046">&lt;3&gt;Itype</tspan><tspan x="1117">interface type enum</tspan><tspan x="1226">'Unknown'</tspan></text>
<text class="t" y="1020"><tspan x="1046">Idocumented</tspan><tspan x="1117">ubool enum</tspan><tspan x="1226">'Unknown'</tspan></text>
<text class="t" y="1032"><tspan x="1046">Itested</tspan><tspan x="1117">ubool enum</tspan><tspan x="1226">'Unknown'</tspan></text>
<text class="t" y="1045"><tspan x="1046">Iwithdrawnin</tspan><tspan x="1117">version enum</tspan><tspan x="1226">'none'</tspan></text>
<text class="t" y="1058"><tspan x="1046">Icomment</tspan><tspan x="1117">varchar</tspan><tspan x="1200">(255)</tspan><tspan x="1226">''</tspan></text>
<text class="t" y="1070"><tspan x="1046">FKIversion</tspan><tspan x="1117">int unsigned</tspan></text>
<text class="t" y="1083"><tspan x="1046">FKIreturn</tspan><tspan x="1117">int unsigned</tspan></text>
<text class="t" y="1096"><tspan x="1046">FK&lt;4&gt;Istandard</tspan><tspan x="1117">int unsigned</tspan></text>
<text class="t" y="1108"><tspan x="1046">FK&lt;5&gt;Iarch</tspan><tspan x="1117">int unsigned</tspan></text>
<text class="t" y="1121"><tspan x="1046">FKIheader</tspan><tspan x="1117">int unsigned</tspan></text></g>

<g id="type"><rect class="bk" x="234" y="735" width="234" height="154"/><line class="sk" x1="234" y1="753" x2="468" y2="753"/><text class="t m" x="351" y="747">Type</text>
<text class="t" y="765"><tspan x="238" class="u">Tid</tspan><tspan x="312">int unsigned</tspan></text>
<text class="t" y="778"><tspan x="238">&lt;1&gt; Tname</tspan><tspan x="312">varchar</tspan><tspan x="384">(128)</tspan><tspan x="412">''</tspan></text>
<text class="t" y="791"><tspan x="238">&lt;1&gt; Ttype</tspan><tspan x="312">type kind enum</tspan><tspan x="412">'Unknown'</tspan></text>
<text class="t" y="803"><tspan x="238">n Tcomment</tspan><tspan x="312">varchar</tspan><tspan x="384">(60)</tspan><tspan x="412">NULL</tspan></text>
<text class="t" y="816"><tspan x="238">n Tarray</tspan><tspan x="312">varchar</tspan><tspan x="384">(16)</tspan><tspan x="412">NULL</tspan></text>
<text class="t" y="828"><tspan x="238">Tstatus</tspan><tspan x="312">type status enum</tspan><tspan x="412">'Excluded'</tspan></text>
<text class="t" y="841"><tspan x="238">n Tattribute</tspan><tspan x="312">varchar</tspan><tspan x="384">(64)</tspan><tspan x="412">NULL</tspan></text>
<text class="t" y="854"><tspan x="238">FK&lt;1&gt;&lt;2&gt; Tarch</tspan><tspan x="312">int unsigned</tspan></text>
<text class="t" y="867"><tspan x="238">FK Theadergroup</tspan><tspan x="312">int unsigned</tspan></text>
<text class="t" y="879"><tspan x="238">FKn Tbasetype</tspan><tspan x="312">int unsigned</tspan><tspan x="412">NULL</tspan></text></g>

<g id="headergroup"><rect class="bk" x="6" y="437" width="170" height="104"/><line class="sk" x1="6" y1="455" x2="176" y2="455"/><text class="t m" x="91" y="449">HeaderGroup</text>
<text class="t" y="467"><tspan x="10" class="u">HGid</tspan><tspan x="79">int unsigned</tspan></text>
<text class="t" y="480"><tspan x="10">HGname</tspan><tspan x="79">varchar</tspan><tspan x="132">(60)</tspan></text>
<text class="t" y="492"><tspan x="10">HGorder</tspan><tspan x="79">int</tspan><tspan x="132">(10)</tspan><tspan x="154">0</tspan></text>
<text class="t" y="505"><tspan x="10">n HGdescription</tspan><tspan x="79">text</tspan></text>
<text class="t" y="517"><tspan x="10">FK HGarch</tspan><tspan x="79">int unsigned</tspan></text>
<text class="t" y="530"><tspan x="10">FK HGheader</tspan><tspan x="79">int unsigned</tspan></text></g>

<g id="arctypemem"><rect class="bt" x="6" y="605" width="151" height="76"/><line class="st" x1="6" y1="623" x2="157" y2="623"/><text class="t m" x="81" y="617">ArcTypeMem</text>
<text class="t" y="634"><tspan x="10">ATMsize</tspan><tspan x="63">int</tspan><tspan x="116">(11)</tspan><tspan x="138">0</tspan></text>
<text class="t" y="646"><tspan x="10">ATMoffset</tspan><tspan x="63">int</tspan><tspan x="116">(11)</tspan><tspan x="138">0</tspan></text>
<text class="t" y="659"><tspan x="10">FK <tspan class="u">ATMtmid</tspan></tspan><tspan x="63">int unsigned</tspan></text>
<text class="t" y="672"><tspan x="10">FK <tspan class="u">ATMaid</tspan></tspan><tspan x="63">int unsigned</tspan></text></g>

<g id="arctype"><rect class="bt" x="361" y="587" width="140" height="63"/><line class="st" x1="361" y1="605" x2="501" y2="605"/><text class="t m" x="431" y="599">ArcType</text>
<text class="t" y="616"><tspan x="365">ATsize</tspan><tspan x="407">int</tspan><tspan x="460">(11)</tspan><tspan x="484">0</tspan></text>
<text class="t" y="629"><tspan x="365">FK <tspan class="u">ATtid</tspan></tspan><tspan x="407">int unsigned</tspan></text>
<text class="t" y="642"><tspan x="365">FK <tspan class="u">ATaid</tspan></tspan><tspan x="407">int unsigned</tspan></text></g>

<g id="typemember"><rect class="bk" x="-10" y="936" width="210" height="166"/><line class="sk" x1="-10" y1="954" x2="200" y2="954"/><text class="t m" x="95" y="948">TypeMember</text>
<text class="t" y="966"><tspan x="-2" class="u">TMid</tspan><tspan x="82">int unsigned</tspan></text>
<text class="t" y="979"><tspan x="-2">TMname</tspan><tspan x="82">varchar</tspan><tspan x="135">(60)</tspan><tspan x="162">''</tspan></text>
<text class="t" y="991"><tspan x="-2">TMsize</tspan><tspan x="82">int</tspan><tspan x="135">(10)</tspan><tspan x="162">0</tspan></text>
<text class="t" y="1004"><tspan x="-2">TMoffset</tspan><tspan x="82">int</tspan><tspan x="135">(10)</tspan><tspan x="162">0</tspan></text>
<text class="t" y="1017"><tspan x="-2">&lt;1&gt; TMposition</tspan><tspan x="82">int</tspan><tspan x="135">(10)</tspan><tspan x="162">0</tspan></text>
<text class="t" y="1029"><tspan x="-2">n TMcomment</tspan><tspan x="82">varchar</tspan><tspan x="135">(60)</tspan><tspan x="162">NULL</tspan></text>
<text class="t" y="1042"><tspan x="-2">n TMarray</tspan><tspan x="82">varchar</tspan><tspan x="135">(128)</tspan><tspan x="162">NULL</tspan></text>
<text class="t" y="1055"><tspan x="-2">TMbitfield</tspan><tspan x="82">tinyint</tspan><tspan x="135">(4)</tspan><tspan x="162">0</tspan></text>
<text class="t" y="1067"><tspan x="-2">FK TMtypetype</tspan><tspan x="82">int unsigned</tspan></text>
<text class="t" y="1080"><tspan x="-2">FK&lt;1&gt; TMmemberof</tspan><tspan x="82">int unsigned</tspan></text>
<text class="t" y="1093"><tspan x="-2">FK TMtypeid</tspan><tspan x="82">int unsigned</tspan></text></g>

<g id="typetype"><rect class="bk" x="16" y="1170" width="158" height="67"/><line class="sk" x1="16" y1="1189" x2="174" y2="1189"/><text class="t m" x="95" y="1183">TypeType</text>
<text class="t" y="1201"><tspan x="20">&lt;1&gt; <tspan class="u">TTid</tspan></tspan><tspan x="75">int unsigned</tspan></text>
<text class="t" y="1213"><tspan x="20">&lt;1&gt; TTname</tspan><tspan x="75">varchar</tspan><tspan x="128">(64)</tspan><tspan x="155">''</tspan></text>
<text class="t" y="1226"><tspan x="20">TTdesc</tspan><tspan x="75">varchar</tspan><tspan x="128">(255)</tspan><tspan x="155">''</tspan></text></g>

<g id="parameter"><rect class="bk" x="259" y="1011" width="183" height="117"/><line class="sk" x1="259" y1="1030" x2="442" y2="1030"/><text class="t m" x="350" y="1024">Parameter</text>
<text class="t" y="1042"><tspan x="263" class="u">Ppos</tspan><tspan x="307">short status enum</tspan><tspan x="383">(11)</tspan><tspan x="404">0</tspan></text>
<text class="t" y="1055"><tspan x="263">n Parsize</tspan><tspan x="307">smallint</tspan><tspan x="383">(6)</tspan><tspan x="404">NULL</tspan></text>
<text class="t" y="1067"><tspan x="263">Pconst</tspan><tspan x="307">bool enum x</tspan><tspan x="404">'N'</tspan></text>
<text class="t" y="1080"><tspan x="263">Pttid</tspan><tspan x="307">int</tspan><tspan x="383">(11)</tspan><tspan x="404">0</tspan></text>
<text class="t" y="1093"><tspan x="263">Pnull</tspan><tspan x="307">bool enum x</tspan><tspan x="404">'N'</tspan></text>
<text class="t" y="1105"><tspan x="263">FK Ptype</tspan><tspan x="307">int unsigned</tspan></text>
<text class="t" y="1118"><tspan x="263">FK <tspan class="u">Pint</tspan></tspan><tspan x="307">int unsigned</tspan></text></g>

<g id="header2"><rect class="bk" x="618" y="938" width="171" height="79"/><line class="sk" x1="618" y1="957" x2="789" y2="957"/><text class="t m" x="703" y="951">Header (2/2)</text>
<text class="t" y="969"><tspan x="623" class="u">Hid</tspan><tspan x="674">int unsigned</tspan></text>
<text class="t" y="981"><tspan x="623">&lt;1&gt; Hname</tspan><tspan x="674">varchar binary</tspan><tspan x="739">(60)</tspan><tspan x="759">''</tspan></text>
<text class="t" y="994"><tspan x="623">Hstd</tspan><tspan x="674">std enum x</tspan><tspan x="759">'No'</tspan></text>
<text class="t" y="1006"><tspan x="623">FK Hlib</tspan><tspan x="674">int unsigned</tspan></text></g>

<g id="archint"><rect class="bt" x="570" y="1113" width="164" height="64"/><line class="st" x1="570" y1="1131" x2="734" y2="1131"/><text class="t m" x="651" y="1125">ArchInt</text>
<text class="t" y="1142"><tspan x="574">FK&lt;1&gt;&lt;2&gt; AIversion</tspan><tspan x="661">int unsigned</tspan></text>
<text class="t" y="1155"><tspan x="574">FK <tspan class="u">AIarch</tspan></tspan><tspan x="661">int unsigned</tspan></text>
<text class="t" y="1168"><tspan x="574">FK&lt;2&gt;&lt;3&gt; <tspan class="u">AIint</tspan></tspan><tspan x="661">int unsigned</tspan></text></g>

<g id="vtable"><rect class="bk" x="1424" y="904" width="173" height="92"/><line class="sk" x1="1424" y1="923" x2="1597" y2="923"/><text class="t m" x="1510" y="917">Vtable</text>
<text class="t" y="935"><tspan x="1427">&lt;2&gt;<tspan class="u">VTvtpos</tspan></tspan><tspan x="1500">int</tspan><tspan x="1553">(11)</tspan><tspan x="1575">0</tspan></text>
<text class="t" y="948"><tspan x="1427" class="u">VTpos</tspan><tspan x="1500">int</tspan><tspan x="1553">(11)</tspan><tspan x="1575">0</tspan></text>
<text class="t" y="960"><tspan x="1427">FK<tspan class="u">VTarch</tspan></tspan><tspan x="1500">int unsigned</tspan></text>
<text class="t" y="973"><tspan x="1427">FK&lt;1&gt;&lt;2&gt;<tspan class="u">VTcid</tspan></tspan><tspan x="1500">int unsigned</tspan></text>
<text class="t" y="986"><tspan x="1427">FKVTviid</tspan><tspan x="1500">int unsigned</tspan></text></g>

<g id="testcmd"><rect class="bt" x="1658" y="763" width="129" height="50"/><line class="st" x1="1658" y1="781" x2="1787" y2="781"/><text class="t m" x="1722" y="775">TestCmd</text>
<text class="t" y="791"><tspan x="1662">FK<tspan class="u">TSCtest</tspan></tspan><tspan x="1714">int unsigned</tspan></text>
<text class="t" y="804"><tspan x="1662">FK<tspan class="u">TSCcmd</tspan></tspan><tspan x="1714">int unsigned</tspan></text></g>

<g id="testsuite"><rect class="bk" x="1608" y="903" width="232" height="92"/><line class="sk" x1="1608" y1="922" x2="1840" y2="922"/><text class="t m" x="1724" y="916">TestSuite</text>
<text class="t" y="934"><tspan x="1612">&lt;1&gt;&lt;2&gt;<tspan class="u">TSid</tspan></tspan><tspan x="1682">int unsigned</tspan></text>
<text class="t" y="946"><tspan x="1612">&lt;1&gt;&lt;2&gt;TSname</tspan><tspan x="1682">varchar</tspan><tspan x="1758">(16)</tspan><tspan x="1785">''</tspan></text>
<text class="t" y="959"><tspan x="1612">TSfullname</tspan><tspan x="1682">varchar</tspan><tspan x="1758">(255)</tspan><tspan x="1785">''</tspan></text>
<text class="t" y="972"><tspan x="1612">TSvendor</tspan><tspan x="1682">varchar</tspan><tspan x="1758">(128)</tspan><tspan x="1785">''</tspan></text>
<text class="t" y="984"><tspan x="1612">TSstatus</tspan><tspan x="1682">short status enum</tspan><tspan x="1785">'Excluded'</tspan></text></g>

<g id="testint"><rect class="bt" x="1568" y="1047" width="123" height="50"/><line class="st" x1="1568" y1="1064" x2="1691" y2="1064"/><text class="t m" x="1629" y="1059">TestInt</text>
<text class="t" y="1075"><tspan x="1571">FK<tspan class="u">TSIint</tspan></tspan><tspan x="1619">int unsigned</tspan></text>
<text class="t" y="1088"><tspan x="1571">FK<tspan class="u">TSItest</tspan></tspan><tspan x="1619">int unsigned</tspan></text></g>

<g id="cmdint"><rect class="bt" x="1700" y="1125" width="115" height="64"/><line class="st" x1="1700" y1="1143" x2="1815" y2="1143"/><text class="t m" x="1757" y="1137">CmdInt</text>
<text class="t" y="1154"><tspan x="1704">FK<tspan class="u">CIvid</tspan></tspan><tspan x="1743">int unsigned</tspan></text>
<text class="t" y="1167"><tspan x="1704">FK<tspan class="u">CIiid</tspan></tspan><tspan x="1743">int unsigned</tspan></text>
<text class="t" y="1179"><tspan x="1704">FK<tspan class="u">CIcid</tspan></tspan><tspan x="1743">int unsigned</tspan></text></g>

<g id="verint"><rect class="bt" x="1366" y="1117" width="118" height="50"/><line class="st" x1="1366" y1="1134" x2="1484" y2="1134"/><text class="t m" x="1425" y="1129">VerInt</text>
<text class="t" y="1145"><tspan x="1370">FK<tspan class="u">VIint</tspan></tspan><tspan x="1413">int unsigned</tspan></text>
<text class="t" y="1158"><tspan x="1370">FK<tspan class="u">VIver</tspan></tspan><tspan x="1413">int unsigned</tspan></text></g>

<g id="version"><rect class="bk" x="1196" y="1219" width="144" height="54"/><line class="sk" x1="1196" y1="1238" x2="1340" y2="1238"/><text class="t m" x="1268" y="1232">Version</text>
<text class="t" y="1250"><tspan x="1201" class="u">Vid</tspan><tspan x="1234">int unsigned</tspan></text>
<text class="t" y="1263"><tspan x="1201">Vname</tspan><tspan x="1234">varchar binary</tspan><tspan x="1296">(60)</tspan><tspan x="1320">''</tspan></text></g>

<g id="title"><text class="ttl" x="60" y="63" textLength="1063" lengthAdjust="spacingAndGlyphs">СЛОЖНОСТЬ ДАННЫХ</text></g>
<g id="page"><text class="pg" x="1827" y="1250">7</text></g>
</svg>
